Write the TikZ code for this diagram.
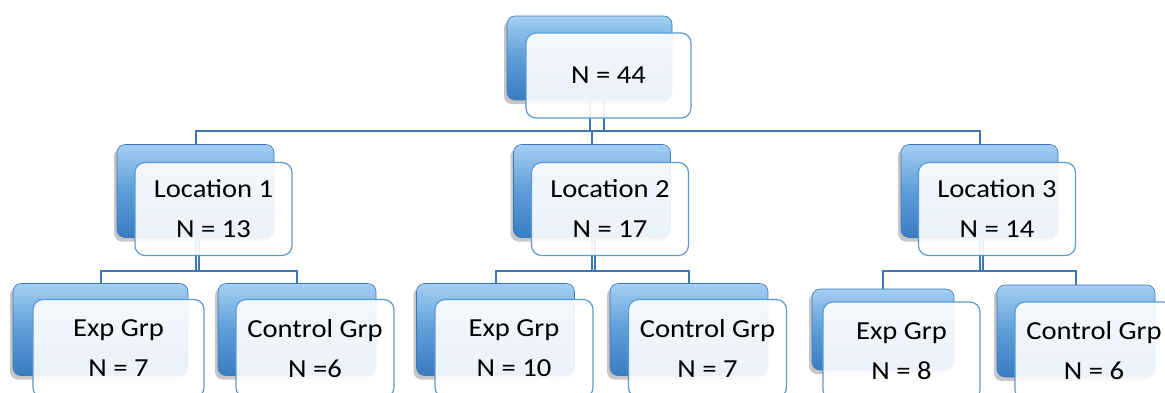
\documentclass[tikz,border=0pt]{standalone}
\usepackage{fontspec}
\setmainfont{Carlito}[FakeStretch=1.1]
\usepackage{xcolor}
\usetikzlibrary{shadows,backgrounds}

\definecolor{boxtop}{HTML}{A4CFF2}
\definecolor{boxmid}{HTML}{5D9DD8}
\definecolor{boxbot}{HTML}{3A7CC2}
\definecolor{boxedge}{HTML}{3C78B6}
\definecolor{frontedge}{HTML}{5B9BD5}
\definecolor{linkblue}{HTML}{3B78B4}

\tikzset{
  backbox/.style={rectangle, rounded corners=8pt, minimum width=158pt, minimum height=92pt,
    top color=boxtop, bottom color=boxbot, middle color=boxmid, draw=boxedge, line width=0.6pt,
    drop shadow={shadow xshift=-3pt, shadow yshift=-4pt, opacity=0.45}},
  frontbox/.style={rectangle, rounded corners=10pt, minimum width=158pt, minimum height=92pt,
    draw=frontedge, line width=1.2pt, fill=white, fill opacity=0.9, text opacity=1,
    align=center, font=\fontsize{26}{40}\selectfont, text=black},
  link/.style={draw=linkblue, line width=2pt}
}

\begin{document}
\begin{tikzpicture}[x=1pt,y=-1pt]
    \useasboundingbox (0,0) rectangle (1165,392);

    % Top box
    \node[backbox, minimum width=165pt, minimum height=84pt] (btop) at (589.5,58) {};
    \node[frontbox, minimum width=165pt, minimum height=85pt] (ftop) at (608.5,75.5) {N = 44};

    % Locations
    \node[backbox, minimum width=157pt, minimum height=93pt] (bloc1) at (195.5,191) {};
    \node[frontbox, minimum width=157pt, minimum height=93pt] (floc1) at (213.5,209) {Location 1\\N = 13};
    \node[backbox, minimum width=157pt, minimum height=93pt] (bloc2) at (592,191) {};
    \node[frontbox, minimum width=157pt, minimum height=93pt] (floc2) at (610,209) {Location 2\\N = 17};
    \node[backbox, minimum width=157pt, minimum height=93pt] (bloc3) at (979.5,191) {};
    \node[frontbox, minimum width=157pt, minimum height=93pt] (floc3) at (997,209) {Location 3\\N = 14};

    % Groups of location 1
    \node[backbox, minimum width=175pt] (bexp1) at (100.5,329.5) {};
    \node[frontbox, minimum width=171pt, minimum height=98pt] (fexp1) at (118.5,348.5) {Exp Grp\\N = 7};
    \node[backbox] (bctl1) at (297,329.5) {};
    \node[frontbox, minimum height=98pt] (fctl1) at (315,348.5) {Control Grp\\N =6};

    % Groups of location 2
    \node[backbox] (bexp2) at (495.5,329.5) {};
    \node[frontbox, minimum height=98pt] (fexp2) at (514,348.5) {Exp Grp\\N = 10};
    \node[backbox] (bctl2) at (689,329.5) {};
    \node[frontbox, minimum height=98pt] (fctl2) at (707.5,348.5) {Control Grp\\N = 7};

    % Groups of location 3
    \node[backbox, minimum width=142pt, minimum height=81pt] (bexp3) at (883,329.5) {};
    \node[frontbox, minimum width=157pt, minimum height=98pt] (fexp3) at (901.5,351) {Exp Grp\\N = 8};
    \node[backbox] (bctl3) at (1076,331) {};
    \node[frontbox, minimum height=98pt] (fctl3) at (1094,351) {Control Grp\\N = 6};

    % Connectors
    \begin{scope}[on background layer]
        \coordinate (bus1) at (0,131);
        \coordinate (bus2) at (0,271);
        \draw[link] (btop.south) -- (btop.south |- bus1);
        \draw[link] ([xshift=14pt]btop.south) -- ([xshift=14pt]btop.south |- bus1);
        \draw[link] (bloc1.north) -- (bloc1.north |- bus1) -- (bloc3.north |- bus1) -- (bloc3.north);
        \draw[link] (bloc2.north) -- (bloc2.north |- bus1);
        \foreach \i in {1,2,3} {
            \draw[link] (bloc\i.south) -- (bloc\i.south |- bus2);
            \draw[link] ([xshift=3pt]bloc\i.south) -- ([xshift=3pt]bloc\i.south |- bus2);
            \draw[link] (bexp\i.north) -- (bexp\i.north |- bus2) -- (bctl\i.north |- bus2) -- (bctl\i.north);
        }
    \end{scope}
\end{tikzpicture}
\end{document}
